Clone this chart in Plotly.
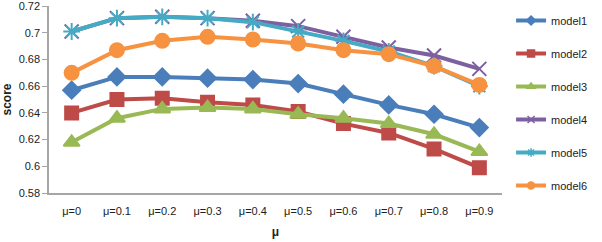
import plotly.graph_objects as go

categories = ["μ=0", "μ=0.1", "μ=0.2", "μ=0.3", "μ=0.4", "μ=0.5", "μ=0.6", "μ=0.7", "μ=0.8", "μ=0.9"]
model1 = [0.657, 0.667, 0.667, 0.666, 0.665, 0.662, 0.654, 0.646, 0.639, 0.629]
model2 = [0.640, 0.650, 0.651, 0.648, 0.646, 0.641, 0.632, 0.625, 0.613, 0.599]
model3 = [0.618, 0.636, 0.643, 0.644, 0.643, 0.639, 0.636, 0.632, 0.624, 0.611]
model4 = [0.701, 0.711, 0.712, 0.711, 0.709, 0.705, 0.697, 0.689, 0.683, 0.673]
model5 = [0.701, 0.711, 0.712, 0.711, 0.708, 0.701, 0.694, 0.686, 0.675, 0.660]
model6 = [0.670, 0.687, 0.694, 0.697, 0.695, 0.692, 0.687, 0.684, 0.675, 0.661]
names = ["model1", "model2", "model3", "model4", "model5", "model6"]
series = [model1, model2, model3, model4, model5, model6]
y_ticks = [0.58, 0.6, 0.62, 0.64, 0.66, 0.68, 0.7, 0.72]
y_ticktext = ["0.58", "0.6", "0.62", "0.64", "0.66", "0.68", "0.7", "0.72"]

colors = ["#4A7EBB", "#BE4B48", "#98B954", "#7D60A0", "#46AAC5", "#F69240"]
symbols = ["diamond", "square", "triangle-up", "x-thin-open", "asterisk-open", "circle"]
sizes = [13, 13, 14, 14, 14, 14]
legend_sizes = [7, 7, 7, 7, 7, 7]

fig = go.Figure()
for i, (name, vals) in enumerate(zip(names, series)):
    fig.add_trace(go.Scatter(
        x=categories, y=vals, mode="lines+markers", name=name, showlegend=False,
        line=dict(color=colors[i], width=4),
        marker=dict(symbol=symbols[i], size=sizes[i], color=colors[i],
                    line=dict(color=colors[i], width=2)),
    ))
for i, name in enumerate(names):
    fig.add_trace(go.Scatter(
        x=[None], y=[None], mode="lines+markers", name=name, legendgroup=name,
        line=dict(color=colors[i], width=4),
        marker=dict(symbol=symbols[i], size=legend_sizes[i], color=colors[i],
                    line=dict(color=colors[i], width=1.5)),
    ))

fig.update_layout(
    width=602, height=242,
    margin=dict(l=49, r=100, t=6, b=49),
    plot_bgcolor="white", paper_bgcolor="white",
    font=dict(family="Liberation Sans, Arial, sans-serif", size=11, color="#222"),
    legend=dict(x=1.02, y=1.0, xanchor="left", yanchor="top", tracegroupgap=14,
                maxheight=242,
                font=dict(size=11), bgcolor="rgba(0,0,0,0)"),
    xaxis=dict(
        type="category", range=[-0.5, 9.5], showgrid=False,
        showline=True, linecolor="#A6A6A6", linewidth=1.5,
        ticks="outside", ticklen=7, tickcolor="rgba(0,0,0,0)",
        title=dict(text="<b>μ</b>", standoff=12, font=dict(size=12)),
        automargin=False,
    ),
    yaxis=dict(
        range=[0.58, 0.7201], showgrid=False,
        tickmode="array", tickvals=y_ticks, ticktext=y_ticktext,
        ticklabeloverflow="allow", automargin=False,
        showline=True, linecolor="#A6A6A6", linewidth=1.5,
        ticks="outside", ticklen=5, tickcolor="#A6A6A6",
        title=dict(text="<b>score</b>", standoff=6, font=dict(size=12)),
    ),
)

fig.write_html("out.html")
